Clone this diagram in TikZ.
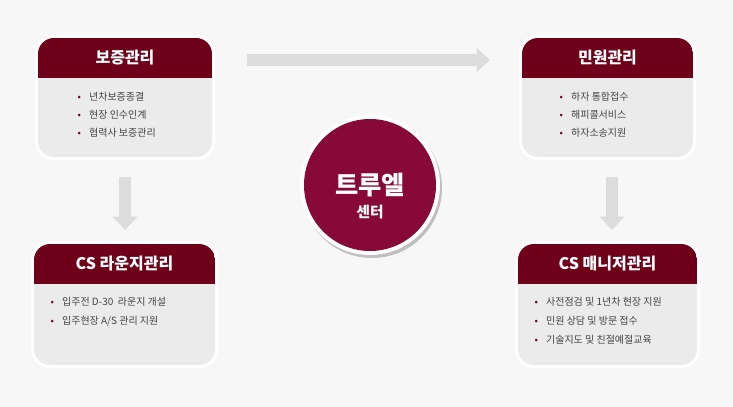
\documentclass[tikz,border=0pt]{standalone}
\usepackage{fontspec}
\newfontfamily\kr{Noto Sans CJK KR}
\usetikzlibrary{arrows.meta}
\definecolor{hdr}{HTML}{6E0019}
\definecolor{circ}{HTML}{870A36}
\definecolor{bodyc}{HTML}{EBEBEB}
\definecolor{bg}{HTML}{F7F7F7}
\definecolor{arr}{HTML}{DCDCDC}
\definecolor{txt}{HTML}{444444}
\begin{document}
\begin{tikzpicture}[x=0.75pt,y=-0.75pt,font=\kr,
  item/.style={anchor=west,text=txt,font=\kr\fontsize{7.5}{9}\selectfont},
  ttl/.style={text=white,font=\kr\bfseries\fontsize{12}{14}\selectfont},
  garrow/.style={arr,line width=9pt,-{Triangle[length=10pt,width=18pt]}}]
\fill[bg] (0,0) rectangle (733,407);
\useasboundingbox (0,0) rectangle (733,407);
\newcommand\mybox[8]{% x1 y1 x2 y2 hy name title
  \fill[white,rounded corners=14pt] (#1-3,#2-3) rectangle (#3+3,#4+3);
  \fill[bodyc,rounded corners=12pt] (#1,#2) rectangle (#3,#4);
  \begin{scope}
  \clip[rounded corners=12pt] (#1,#2) rectangle (#3,#4);
  \fill[hdr] (#1,#2) rectangle (#3,#5);
  \end{scope}
  \node[ttl] (#6) at ({(#1+#3)/2},{(#2+#5)/2}) {#7};
  #8}
\newcommand\bul[3]{\node[item] at (#1,#2) {\textcolor{hdr}{•}\hspace{6pt}#3};}
\mybox{38}{38}{212}{157}{78}{bz}{보증관리}{%
 \bul{73}{97}{년차보증종결}\bul{73}{115}{현장 인수인계}\bul{73}{133}{협력사 보증관리}}
\mybox{522}{38}{693}{157}{78}{mw}{민원관리}{%
 \bul{555}{97}{하자 통합접수}\bul{555}{115}{해피콜서비스}\bul{555}{133}{하자소송지원}}
\mybox{34}{244}{215}{365}{284}{cs}{CS 라운지관리}{%
 \bul{46}{302}{입주전 D-30\ \ 라운지 개설}\bul{46}{321}{입주현장 A/S 관리 지원}}
\mybox{518}{244}{697}{365}{284}{mg}{CS 매니저관리}{%
 \bul{530}{302}{사전점검 및 1년차 현장 지원}\bul{530}{321}{민원 상담 및 방문 접수}\bul{530}{340}{기술지도 및 친절예절교육}}
\coordinate (h1) at (247,60); \coordinate (h2) at (490,60);
\coordinate (v1) at (125,177); \coordinate (v2) at (125,230);
\coordinate (w1) at (612,177); \coordinate (w2) at (612,230);
\draw[garrow] (h1) -- (h2);
\draw[garrow] (v1) -- (v2);
\draw[garrow] (w1) -- (w2);
\fill[black!25] (372,188) circle[radius=70];
\fill[white] (370,185) circle[radius=70];
\fill[circ] (370,185) circle[radius=66];
\node[text=white,font=\kr\bfseries\fontsize{19}{22}\selectfont] (ct) at (370,185) {트루엘};
\node[text=white,font=\kr\bfseries\fontsize{11}{13}\selectfont] (ct2) at (370,212) {센터};
\end{tikzpicture}
\end{document}
